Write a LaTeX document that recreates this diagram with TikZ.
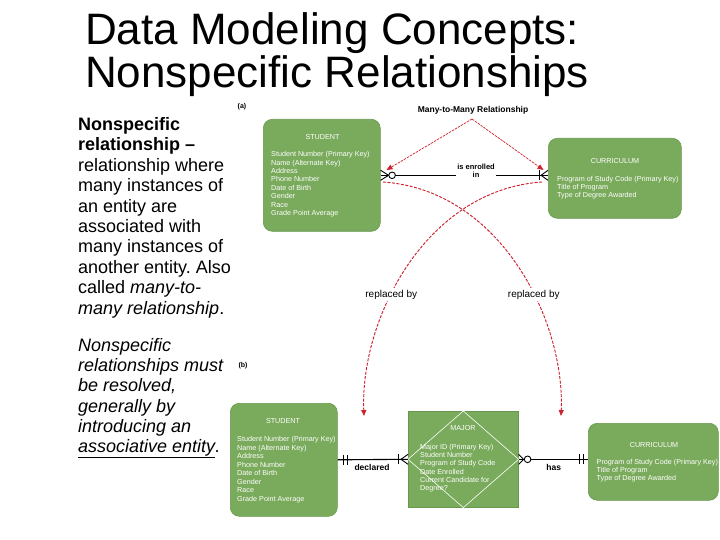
\documentclass[tikz,border=0pt]{standalone}
\usepackage{fontspec}
\setmainfont{Liberation Sans}
\usetikzlibrary{arrows.meta,calc}
\definecolor{entgreen}{RGB}{122,170,92}
\definecolor{entborder}{RGB}{104,152,78}
\definecolor{redline}{RGB}{205,35,45}
\frenchspacing
\begin{document}
\begin{tikzpicture}[x=1pt,y=-1pt,
  entity/.style={draw=entborder, fill=entgreen, line width=0.6pt, inner sep=0pt, anchor=north west},
  enthead/.style={text=white, font=\fontsize{7.2}{8.5}\selectfont, inner sep=0pt, anchor=base},
  attr/.style={text=white, font=\fontsize{7.2}{8.5}\selectfont, inner sep=0pt, anchor=base west},
  lefttext/.style={font=\fontsize{18}{20.4}\selectfont, inner sep=0pt, anchor=base west},
  titletext/.style={font=\fontsize{44}{44}\selectfont, inner sep=0pt, anchor=base west},
  relline/.style={line width=1.1pt, black},
  relsym/.style={line width=0.9pt, black},
  rellabel/.style={font=\bfseries\fontsize{8.5}{9}\selectfont, inner sep=0pt, anchor=base},
  reddash/.style={draw=redline, dash pattern=on 3pt off 1.5pt, line width=0.95pt, -{Triangle[length=6pt,width=5pt]}, redline},
  redthin/.style={draw=redline, dash pattern=on 2.5pt off 1pt, line width=0.7pt, -{Triangle[length=6pt,width=5pt]}, redline}
]
\useasboundingbox (0,0) rectangle (720,540);

% Title
\node[titletext] (title1) at (85,45) {Data Modeling Concepts:};
\node[titletext] (title2) at (85,88) {Nonspecific Relationships};

% Left text
\foreach \t [count=\i from 0] in {{\textbf{Nonspecific}},{\textbf{relationship –}},{relationship where},{many instances of},{an entity are},{associated with},{many instances of},{another entity. Also},{called \textit{many-to-}},{\textit{many relationship}.}}
  \node[lefttext] (pa\i) at (78,130.5+20.4*\i) {\t};
\foreach \t [count=\i from 0] in {{Nonspecific},{relationships must},{be resolved,},{generally by},{introducing an},{\underline{associative entity}.}}
  \node[lefttext, font=\fontsize{18}{20.4}\selectfont\itshape] (pb\i) at (78,351.5+20.2*\i) {\t};

% panel labels
\node[rellabel, font=\bfseries\fontsize{7}{8}\selectfont] (lbla) at (242,108.5) {(a)};
\node[rellabel, font=\bfseries\fontsize{7}{8}\selectfont] (lblb) at (243,367.5) {(b)};

% ---------- (a) ----------
\node[entity, rounded corners=9pt, minimum width=117pt, minimum height=112pt] (stuA) at (263,119) {};
\node[enthead] (stuAh) at (322.5,139.8) {STUDENT};
\foreach \t [count=\i from 0] in {{Student Number (Primary Key)},{Name (Alternate Key)},{Address},{Phone Number},{Date of Birth},{Gender},{Race},{Grade Point Average}}
  \node[attr] (sa\i) at (271,156.6+8.45*\i) {\t};

\node[entity, rounded corners=9pt, minimum width=133pt, minimum height=80pt] (curA) at (548,138) {};
\node[enthead] (curAh) at (615,163.5) {CURRICULUM};
\foreach \t [count=\i from 0] in {{Program of Study Code (Primary Key)},{Title of Program},{Type of Degree Awarded}}
  \node[attr] (ca\i) at (557,181.5+8.2*\i) {\t};

% relationship line (a)
\draw[relline] (stuA.east) -- (stuA.east -| curA.west);
\node[rellabel, font=\bfseries\fontsize{7.5}{8.3}\selectfont, fill=white, inner sep=1pt, align=center, anchor=center] (relA) at (476,171) {is enrolled\\in};
% crow's foot + circle at STUDENT
\draw[relsym] ($(stuA.east)+(8,0)$) -- ($(stuA.east)+(0,-5)$);
\draw[relsym] ($(stuA.east)+(8,0)$) -- ($(stuA.east)+(0,5)$);
\draw[relsym, fill=white] ($(stuA.east)+(11.5,0)$) circle (3.3pt);
% bar + crow's foot at CURRICULUM
\coordinate (aR) at (stuA.east -| curA.west);
\draw[relsym] ($(aR)+(-9,-5)$) -- ($(aR)+(-9,5)$);
\draw[relsym] ($(aR)+(-7,0)$) -- ($(aR)+(0,-5)$);
\draw[relsym] ($(aR)+(-7,0)$) -- ($(aR)+(0,5)$);

% Many-to-many label and arrows
\node[rellabel] (mm) at (473,112.5) {Many-to-Many Relationship};
\coordinate (mmS) at (472,119);
\coordinate (mmL) at (386.5,170);
\coordinate (mmR) at (543.5,170);
\draw[redthin] (mmS) -- (mmL);
\draw[redthin] (mmS) -- (mmR);

% ---------- (b) ----------
\node[entity, rounded corners=9pt, minimum width=107pt, minimum height=113pt] (stuB) at (230,403) {};
\node[enthead] (stuBh) at (283,423.6) {STUDENT};
\foreach \t [count=\i from 0] in {{Student Number (Primary Key)},{Name (Alternate Key)},{Address},{Phone Number},{Date of Birth},{Gender},{Race},{Grade Point Average}}
  \node[attr] (sb\i) at (237,441.8+8.5*\i) {\t};

\node[entity, minimum width=110pt, minimum height=96pt] (majB) at (408,411) {};
\draw[white, line width=0.6pt] (majB.north) -- (majB.east) -- (majB.south) -- (majB.west) -- cycle;
\node[enthead] (majBh) at (463,430.6) {MAJOR};
\foreach \t [count=\i from 0] in {{Major ID (Primary Key)},{Student Number},{Program of Study Code},{Date Enrolled},{Current Candidate for},{Degree?}}
  \node[attr] (mb\i) at (420,449.2+8.35*\i) {\t};

\node[entity, rounded corners=9pt, minimum width=130pt, minimum height=77pt] (curB) at (588,423) {};
\node[enthead] (curBh) at (654,447) {CURRICULUM};
\foreach \t [count=\i from 0] in {{Program of Study Code (Primary Key)},{Title of Program},{Type of Degree Awarded}}
  \node[attr] (cb\i) at (596.5,464.2+8.3*\i) {\t};

% declared
\draw[relline] (stuB.east) -- (majB.west);
\draw[relsym] ($(stuB.east)+(6,-5)$) -- ($(stuB.east)+(6,5)$);
\draw[relsym] ($(stuB.east)+(10,-5)$) -- ($(stuB.east)+(10,5)$);
\draw[relsym] ($(majB.west)+(-10,-5)$) -- ($(majB.west)+(-10,5)$);
\draw[relsym] ($(majB.west)+(-7,0)$) -- ($(majB.west)+(0,-5)$);
\draw[relsym] ($(majB.west)+(-7,0)$) -- ($(majB.west)+(0,5)$);
\node[rellabel] (decl) at (372,470.5) {declared};

% has
\coordinate (bR) at (majB.east -| curB.west);
\draw[relline] (majB.east) -- (bR);
\draw[relsym] ($(majB.east)+(5,0)$) -- ($(majB.east)+(0,-5)$);
\draw[relsym] ($(majB.east)+(5,0)$) -- ($(majB.east)+(0,5)$);
\draw[relsym, fill=white] ($(majB.east)+(9,0)$) circle (3.3pt);
\draw[relsym] ($(bR)+(-9,-5)$) -- ($(bR)+(-9,5)$);
\draw[relsym] ($(bR)+(-5,-5)$) -- ($(bR)+(-5,5)$);
\node[rellabel] (has) at (553.7,470.5) {has};

% replaced-by curves
\coordinate (cvL) at (383,182);
\coordinate (cvR) at (542,182);
\coordinate (endR) at (561,416);
\coordinate (endL) at (364,416);
\draw[reddash] (cvL) .. controls (500,190) and (565,320) .. (endR)
  node[pos=0.6, fill=white, text=black, inner sep=1.5pt, font=\fontsize{10}{11}\selectfont] (rbR) {replaced by};
\draw[reddash] (cvR) .. controls (425,190) and (360,320) .. (endL)
  node[pos=0.6, fill=white, text=black, inner sep=1.5pt, font=\fontsize{10}{11}\selectfont] (rbL) {replaced by};
\end{tikzpicture}
\end{document}
